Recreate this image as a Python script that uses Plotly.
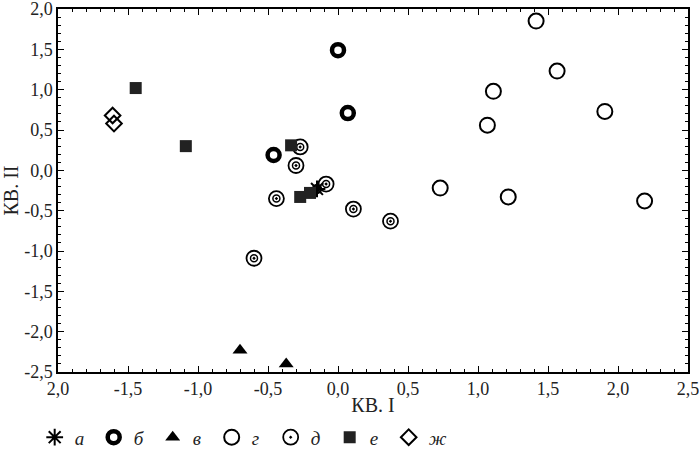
import plotly.graph_objects as go

# ---- data ----
a_x = [-0.15]
a_y = [-0.23]
b_x = [0.0, 0.07, -0.46]
b_y = [1.49, 0.71, 0.19]
v_x = [-0.70, -0.37]
v_y = [-2.23, -2.40]
g_x = [1.415, 1.565, 1.11, 1.906, 1.067, 0.73, 1.216, 2.19]
g_y = [1.85, 1.23, 0.98, 0.73, 0.56, -0.22, -0.33, -0.38]
d_x = [-0.27, -0.30, -0.085, -0.44, 0.11, 0.375, -0.60]
d_y = [0.29, 0.06, -0.17, -0.35, -0.48, -0.63, -1.09]
e_x = [-1.445, -1.087, -0.335, -0.27, -0.20]
e_y = [1.02, 0.30, 0.31, -0.33, -0.28]
zh_x = [-1.61, -1.60]
zh_y = [0.68, 0.58]

x_tickvals = [-2.0, -1.5, -1.0, -0.5, 0.0, 0.5, 1.0, 1.5, 2.0, 2.5]
x_ticktext = ["2,0", "-1,5", "-1,0", "-0,5", "0,0", "0,5", "1,0", "1,5", "2,0", "2,5"]
y_tickvals = [2.0, 1.5, 1.0, 0.5, 0.0, -0.5, -1.0, -1.5, -2.0, -2.5]
y_ticktext = ["2,0", "1,5", "1,0", "0,5", "0,0", "-0,5", "-1,0", "-1,5", "-2,0", "-2,5"]

names = ["а", "б", "в", "г", "д", "е", "ж"]

fig = go.Figure()
K = "black"
SERIF = "Liberation Serif"

# а (gear): asterisk + small ring
fig.add_trace(go.Scatter(x=a_x, y=a_y, mode="markers", name=names[0],
                         marker=dict(symbol="asterisk-open", size=14, color=K, line=dict(color=K, width=2))))
fig.add_trace(go.Scatter(x=a_x, y=a_y, mode="markers", showlegend=False,
                         marker=dict(symbol="circle-open", size=8, color=K, line=dict(color=K, width=2.5))))
# б thick ring
fig.add_trace(go.Scatter(x=b_x, y=b_y, mode="markers", name=names[1],
                         marker=dict(symbol="circle-open", size=12, color=K, line=dict(color=K, width=4.5))))
# в triangle
fig.add_trace(go.Scatter(x=v_x, y=v_y, mode="markers", name=names[2],
                         marker=dict(symbol="triangle-up", size=13, color=K)))
# г open circle
fig.add_trace(go.Scatter(x=g_x, y=g_y, mode="markers", name=names[3],
                         marker=dict(symbol="circle-open", size=15, color=K, line=dict(color=K, width=2))))
# д double circle
fig.add_trace(go.Scatter(x=d_x, y=d_y, mode="markers", name=names[4],
                         marker=dict(symbol="circle-open-dot", size=15, color=K, line=dict(color=K, width=1.8))))
fig.add_trace(go.Scatter(x=d_x, y=d_y, mode="markers", showlegend=False,
                         marker=dict(symbol="circle-open", size=7, color=K, line=dict(color=K, width=1.5))))
# е filled square
fig.add_trace(go.Scatter(x=e_x, y=e_y, mode="markers", name=names[5],
                         marker=dict(symbol="square", size=12, color="#222")))
# ж diamond
fig.add_trace(go.Scatter(x=zh_x, y=zh_y, mode="markers", name=names[6],
                         marker=dict(symbol="diamond-open", size=12, color=K, line=dict(color=K, width=2))))

axis_common = dict(
    showline=True, linecolor=K, linewidth=1.5, mirror="allticks",
    ticks="inside", ticklen=6, tickcolor=K, tickwidth=1.2,
    showgrid=False, zeroline=False, automargin=False,
    ticklabeloverflow="allow",
    minor=dict(ticks="inside", ticklen=3, tickcolor=K, dtick=0.1, showgrid=False),
    tickfont=dict(family=SERIF, size=18, color="#222"),
)

fig.update_xaxes(range=[-2.0, 2.5], tickvals=x_tickvals, ticktext=x_ticktext,
                 title=dict(text="КВ. I", font=dict(family=SERIF, size=20, color="#222"), standoff=0),
                 **axis_common)
fig.update_yaxes(range=[-2.5, 2.0], tickvals=y_tickvals, ticktext=y_ticktext,
                 title=dict(text="КВ. II", font=dict(family=SERIF, size=20, color="#222"), standoff=2),
                 **axis_common)

fig.update_layout(
    width=699, height=457,
    margin=dict(l=58, r=11, t=9, b=85, autoexpand=False),
    plot_bgcolor="white", paper_bgcolor="white",
    showlegend=True,
    legend=dict(orientation="h", x=-0.037, xanchor="left", y=-0.18, yanchor="middle",
                font=dict(family=SERIF, size=19, color="#222", style="italic"),
                entrywidth=14, entrywidthmode="pixels", itemsizing="trace",
                bgcolor="rgba(0,0,0,0)"),
)

fig.write_html("out.html", config={"displayModeBar": False},
               post_script="document.body.style.margin='0';document.body.style.overflow='hidden';")
